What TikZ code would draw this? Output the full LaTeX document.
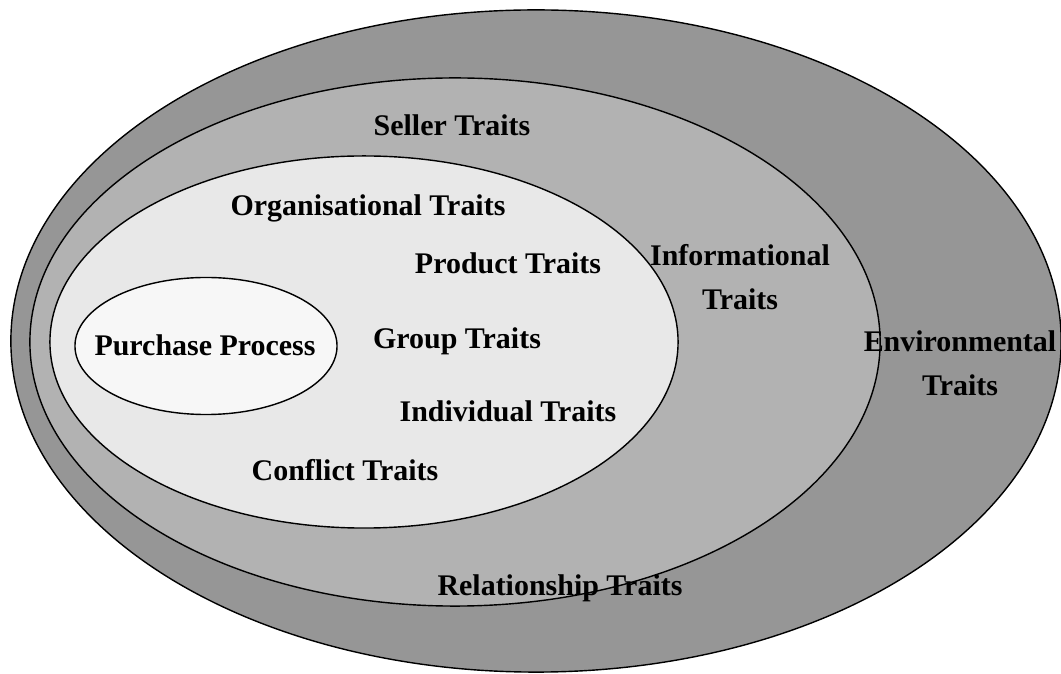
\documentclass[tikz,border=0pt]{standalone}
\usepackage{fontspec}
\setmainfont{Liberation Serif}
\usepackage{xcolor}
\usepackage{tikz}
\usetikzlibrary{shapes.geometric, positioning}

\definecolor{envgray}{HTML}{969696}
\definecolor{sellergray}{HTML}{B2B2B2}
\definecolor{orggray}{HTML}{E8E8E8}
\definecolor{coregray}{HTML}{F7F7F7}

\begin{document}
\begin{tikzpicture}[
    x=0.025cm, y=-0.025cm,
    layer/.style={ellipse, draw, line width=1pt, inner sep=0pt},
    trait/.style={font=\fontsize{21.3}{31.3}\selectfont\bfseries, inner sep=0pt, anchor=base, align=center}
]
\useasboundingbox (0,0) rectangle (1061,674);

% nested layers, outermost first
\node [layer, fill=envgray, minimum width=26.25cm, minimum height=16.55cm] (env) at (536,341) {};
\node [layer, fill=sellergray, minimum width=21.25cm, minimum height=13.2cm] (seller) at (455,342) {};
\node [layer, fill=orggray, minimum width=15.7cm, minimum height=9.3cm] (org) at (364,342) {};
\node [layer, fill=coregray, minimum width=6.55cm, minimum height=3.425cm] (purchase) at (206,346) {};

% labels (two-line ones sit on their last baseline)
\node [trait] (sellerlbl) at (452,136) {Seller Traits};
\node [trait] (orglbl) at (368,216) {Organisational Traits};
\node [trait] (productlbl) at (508,274) {Product Traits};
\node [trait] (infolbl) at (740,310) {Informational\\Traits};
\node [trait] (purchaselbl) at (205,356) {Purchase Process};
\node [trait] (grouplbl) at (457,349) {Group Traits};
\node [trait] (envlbl) at (960,396) {Environmental\\Traits};
\node [trait] (indivlbl) at (508,422) {Individual Traits};
\node [trait] (conflictlbl) at (345,481) {Conflict Traits};
\node [trait] (relationlbl) at (560,596) {Relationship Traits};

\end{tikzpicture}
\end{document}
